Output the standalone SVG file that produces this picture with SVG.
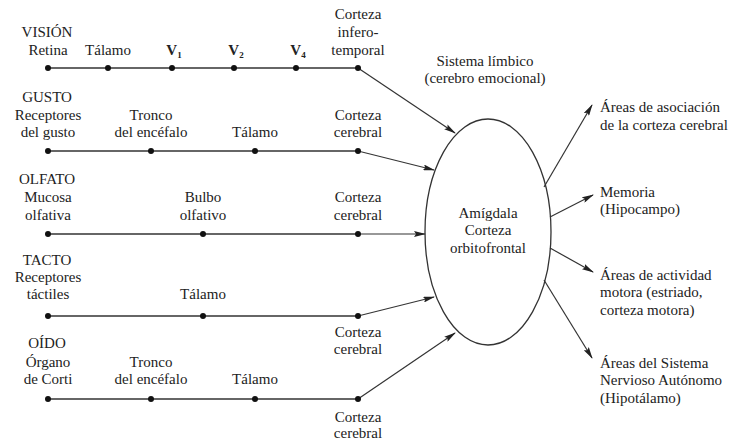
<svg xmlns="http://www.w3.org/2000/svg" width="734" height="443" viewBox="0 0 734 443">
<defs>
<style>
text{font-family:"Liberation Serif","Times New Roman",serif;font-size:15px;fill:#222;}
.c{text-anchor:middle;}
.b{font-weight:bold;}
.ln{stroke:#333;stroke-width:1.3;fill:none;}
.dot{fill:#111;}
.ar{stroke:#333;stroke-width:1.2;fill:none;marker-end:url(#ah);}
</style>
<marker id="ah" viewBox="0 0 12 6" refX="11" refY="3" markerWidth="12" markerHeight="6" markerUnits="userSpaceOnUse" orient="auto">
<path d="M0,0 L12,3 L0,6 L2,3 z" fill="#222"/>
</marker>
</defs>
<rect width="734" height="443" fill="#fff"/>

<g id="connectors">
<line class="ln" x1="48" y1="68" x2="358" y2="68"/>
<line class="ln" x1="48" y1="151" x2="358" y2="151"/>
<line class="ln" x1="48" y1="234" x2="358" y2="234"/>
<line class="ln" x1="48" y1="316" x2="358" y2="316"/>
<line class="ln" x1="48" y1="399" x2="358" y2="399"/>
<line class="ar" x1="358" y1="68" x2="455" y2="133"/>
<line class="ar" x1="358" y1="151" x2="434" y2="170"/>
<line class="ar" x1="358" y1="234" x2="425" y2="234"/>
<line class="ar" x1="358" y1="316" x2="434" y2="297"/>
<line class="ar" x1="358" y1="399" x2="455" y2="333"/>
<line class="ar" x1="544" y1="187" x2="592" y2="105"/>
<line class="ar" x1="550" y1="217" x2="593" y2="195"/>
<line class="ar" x1="550" y1="248" x2="593" y2="272"/>
<line class="ar" x1="544" y1="280" x2="592" y2="358"/>
</g>

<g id="vision">
<text class="c" x="47" y="37">VISIÓN</text>
<circle class="dot" cx="48" cy="68" r="3"/><text class="c" x="48" y="55">Retina</text>
<circle class="dot" cx="108" cy="68" r="3"/><text class="c" x="108" y="55">Tálamo</text>
<circle class="dot" cx="172" cy="68" r="3"/><text class="c b" x="174" y="55">V<tspan font-size="9" dy="3">1</tspan></text>
<circle class="dot" cx="234" cy="68" r="3"/><text class="c b" x="236" y="55">V<tspan font-size="9" dy="3">2</tspan></text>
<circle class="dot" cx="296" cy="68" r="3"/><text class="c b" x="298" y="55">V<tspan font-size="9" dy="3">4</tspan></text>
<circle class="dot" cx="358" cy="68" r="3"/>
<text class="c" x="358" y="19">Corteza</text><text class="c" x="358" y="37">infero-</text><text class="c" x="358" y="55">temporal</text>
</g>

<g id="gusto">
<text class="c" x="47" y="102">GUSTO</text>
<circle class="dot" cx="48" cy="151" r="3"/><text class="c" x="48" y="120">Receptores</text><text class="c" x="48" y="137">del gusto</text>
<circle class="dot" cx="151" cy="151" r="3"/><text class="c" x="151" y="120">Tronco</text><text class="c" x="151" y="137">del encéfalo</text>
<circle class="dot" cx="255" cy="151" r="3"/><text class="c" x="255" y="137">Tálamo</text>
<circle class="dot" cx="358" cy="151" r="3"/><text class="c" x="358" y="120">Corteza</text><text class="c" x="358" y="137">cerebral</text>
</g>

<g id="olfato">
<text class="c" x="47" y="184">OLFATO</text>
<circle class="dot" cx="48" cy="234" r="3"/><text class="c" x="48" y="202">Mucosa</text><text class="c" x="48" y="220">olfativa</text>
<circle class="dot" cx="203" cy="234" r="3"/><text class="c" x="203" y="202">Bulbo</text><text class="c" x="203" y="220">olfativo</text>
<circle class="dot" cx="358" cy="234" r="3"/><text class="c" x="358" y="202">Corteza</text><text class="c" x="358" y="220">cerebral</text>
</g>

<g id="tacto">
<text class="c" x="47" y="265">TACTO</text>
<circle class="dot" cx="48" cy="316" r="3"/><text class="c" x="48" y="282">Receptores</text><text class="c" x="48" y="299">táctiles</text>
<circle class="dot" cx="203" cy="316" r="3"/><text class="c" x="203" y="299">Tálamo</text>
<circle class="dot" cx="358" cy="316" r="3"/><text class="c" x="358" y="337">Corteza</text><text class="c" x="358" y="354">cerebral</text>
</g>

<g id="oido">
<text class="c" x="47" y="348">OÍDO</text>
<circle class="dot" cx="48" cy="399" r="3"/><text class="c" x="48" y="367">Órgano</text><text class="c" x="48" y="384">de Corti</text>
<circle class="dot" cx="151" cy="399" r="3"/><text class="c" x="151" y="367">Tronco</text><text class="c" x="151" y="384">del encéfalo</text>
<circle class="dot" cx="255" cy="399" r="3"/><text class="c" x="255" y="384">Tálamo</text>
<circle class="dot" cx="358" cy="399" r="3"/><text class="c" x="358" y="422">Corteza</text><text class="c" x="358" y="438">cerebral</text>
</g>

<g id="limbico">
<text class="c" x="485" y="66">Sistema límbico</text>
<text class="c" x="485" y="83">(cerebro emocional)</text>
</g>

<g id="amigdala">
<ellipse cx="488" cy="232" rx="63" ry="113" fill="none" stroke="#333" stroke-width="1.3"/>
<text class="c" x="488" y="218">Amígdala</text>
<text class="c" x="488" y="235">Corteza</text>
<text class="c" x="488" y="253">orbitofrontal</text>
</g>

<g id="asociacion">
<text x="600" y="112">Áreas de asociación</text>
<text x="600" y="130">de la corteza cerebral</text>
</g>
<g id="memoria">
<text x="600" y="197">Memoria</text>
<text x="600" y="214">(Hipocampo)</text>
</g>
<g id="motora">
<text x="600" y="280">Áreas de actividad</text>
<text x="600" y="297">motora (estriado,</text>
<text x="600" y="315">corteza motora)</text>
</g>
<g id="autonomo">
<text x="600" y="368">Áreas del Sistema</text>
<text x="600" y="385">Nervioso Autónomo</text>
<text x="600" y="403">(Hipotálamo)</text>
</g>
</svg>
